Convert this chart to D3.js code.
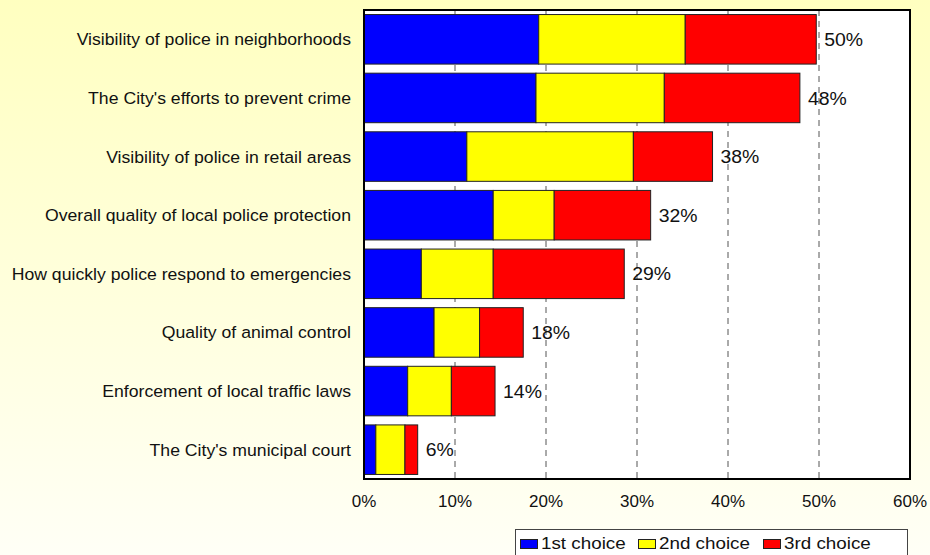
<!DOCTYPE html>
<html>
<head>
<meta charset="utf-8">
<script src="https://cdn.jsdelivr.net/npm/d3@7"></script>
<style>
  html, body { margin: 0; padding: 0; }
  body { width: 930px; height: 555px; overflow: hidden; font-family: Arial, "Liberation Sans", sans-serif; }
</style>
</head>
<body>
<div id="chart"></div>
<script>
// Kategorien (von oben nach unten)
const categories = [
  'Visibility of police in neighborhoods',
  "The City's efforts to prevent crime",
  'Visibility of police in retail areas',
  'Overall quality of local police protection',
  'How quickly police respond to emergencies',
  'Quality of animal control',
  'Enforcement of local traffic laws',
  "The City's municipal court"
];

const seriesNames = ['1st choice', '2nd choice', '3rd choice'];
const seriesColors = ['#0000ff', '#ffff00', '#ff0000'];

// Anteile in % je Wahl
const first  = [19.2, 18.9, 11.3, 14.2, 6.3, 7.7, 4.8, 1.3];
const second = [16.1, 14.1, 18.3, 6.7, 7.9, 5.0, 4.8, 3.2];
const third  = [14.4, 14.9, 8.7, 10.6, 14.4, 4.8, 4.8, 1.4];

const totalLabels = ['50%', '48%', '38%', '32%', '29%', '18%', '14%', '6%'];
const xTicks = [0, 10, 20, 30, 40, 50, 60];

const width = 930;
const height = 555;
const plot = { left: 364, right: 910, top: 10, bottom: 479 };

const svg = d3.select('#chart').append('svg')
  .attr('width', width)
  .attr('height', height);

// Text leicht in die Breite gezogen, wie im Original
function stretchedText(sel, opts) {
  const g = sel.append('g')
    .attr('transform', d => `translate(${opts.x(d)},${opts.y(d)}) scale(${opts.sx},1)`);
  g.append('text')
    .attr('text-anchor', opts.anchor || 'start')
    .attr('dy', opts.dy || 0)
    .attr('font-size', opts.size + 'px')
    .attr('fill', '#111')
    .text(opts.text);
  return g;
}

// Hintergrund-Verlauf
const defs = svg.append('defs');
const grad = defs.append('linearGradient')
  .attr('id', 'bg')
  .attr('x1', 0).attr('y1', 0).attr('x2', 0).attr('y2', 1);
grad.append('stop').attr('offset', '0%').attr('stop-color', '#ffffc0');
grad.append('stop').attr('offset', '100%').attr('stop-color', '#fffff6');

svg.append('rect')
  .attr('width', width)
  .attr('height', height)
  .attr('fill', 'url(#bg)');

const x = d3.scaleLinear()
  .domain([0, 60])
  .range([plot.left, plot.right]);

const y = d3.scaleBand()
  .domain(categories)
  .range([plot.top, plot.bottom])
  .paddingInner(0.155)
  .paddingOuter(0.0775);

// Plotfläche
svg.append('rect')
  .attr('x', plot.left)
  .attr('y', plot.top)
  .attr('width', plot.right - plot.left)
  .attr('height', plot.bottom - plot.top)
  .attr('fill', '#ffffff');

// Gitterlinien
svg.append('g')
  .selectAll('line')
  .data(xTicks.filter(t => t > 0 && t < 60))
  .join('line')
  .attr('x1', d => x(d))
  .attr('x2', d => x(d))
  .attr('y1', plot.top)
  .attr('y2', plot.bottom)
  .attr('stroke', '#555')
  .attr('stroke-width', 1)
  .attr('stroke-dasharray', '6,5');

// gestapelte Daten
const rows = categories.map((c, i) => ({ cat: c, s0: first[i], s1: second[i], s2: third[i] }));
const stacked = d3.stack().keys(['s0', 's1', 's2'])(rows);

svg.append('g')
  .selectAll('g')
  .data(stacked)
  .join('g')
  .attr('fill', (d, i) => seriesColors[i])
  .selectAll('rect')
  .data(d => d)
  .join('rect')
  .attr('x', d => x(d[0]))
  .attr('y', d => y(d.data.cat))
  .attr('width', d => x(d[1]) - x(d[0]))
  .attr('height', y.bandwidth())
  .attr('stroke', '#222')
  .attr('stroke-width', 1);

// Summen-Beschriftung
const totals = rows.map(r => r.s0 + r.s1 + r.s2);
svg.append('g')
  .selectAll('g')
  .data(d3.range(categories.length))
  .join('g')
  .call(stretchedText, {
    x: i => x(totals[i]) + 8,
    y: i => y(categories[i]) + y.bandwidth() / 2,
    dy: '0.36em',
    size: 18.5,
    sx: 1.05,
    text: i => totalLabels[i]
  });

// Kategorien-Beschriftung
svg.append('g')
  .selectAll('g')
  .data(categories)
  .join('g')
  .call(stretchedText, {
    x: () => 351,
    y: d => y(d) + y.bandwidth() / 2,
    dy: '0.36em',
    anchor: 'end',
    size: 16.5,
    sx: 1.07,
    text: d => d
  });

// Rahmen
svg.append('rect')
  .attr('x', plot.left)
  .attr('y', plot.top)
  .attr('width', plot.right - plot.left)
  .attr('height', plot.bottom - plot.top)
  .attr('fill', 'none')
  .attr('stroke', '#000')
  .attr('stroke-width', 2);

// x-Achse
svg.append('g')
  .selectAll('g')
  .data(xTicks)
  .join('g')
  .call(stretchedText, {
    x: d => x(d),
    y: () => 507,
    anchor: 'middle',
    size: 16.5,
    sx: 1.03,
    text: d => d + '%'
  });

// Legende
const legend = svg.append('g');
legend.append('rect')
  .attr('x', 515.5)
  .attr('y', 529.5)
  .attr('width', 392)
  .attr('height', 40)
  .attr('fill', '#fff')
  .attr('stroke', '#444')
  .attr('stroke-width', 1);

const legendX = [520, 638, 763];
const items = legend.selectAll('g.item')
  .data(seriesNames)
  .join('g')
  .attr('class', 'item')
  .attr('transform', (d, i) => `translate(${legendX[i]},0)`);

items.append('rect')
  .attr('x', 0.5)
  .attr('y', 539.5)
  .attr('width', 17)
  .attr('height', 9)
  .attr('fill', (d, i) => seriesColors[i])
  .attr('stroke', '#222');

items.call(stretchedText, {
  x: () => 21,
  y: () => 549.3,
  size: 16.8,
  sx: 1.12,
  text: d => d
});
</script>
</body>
</html>
